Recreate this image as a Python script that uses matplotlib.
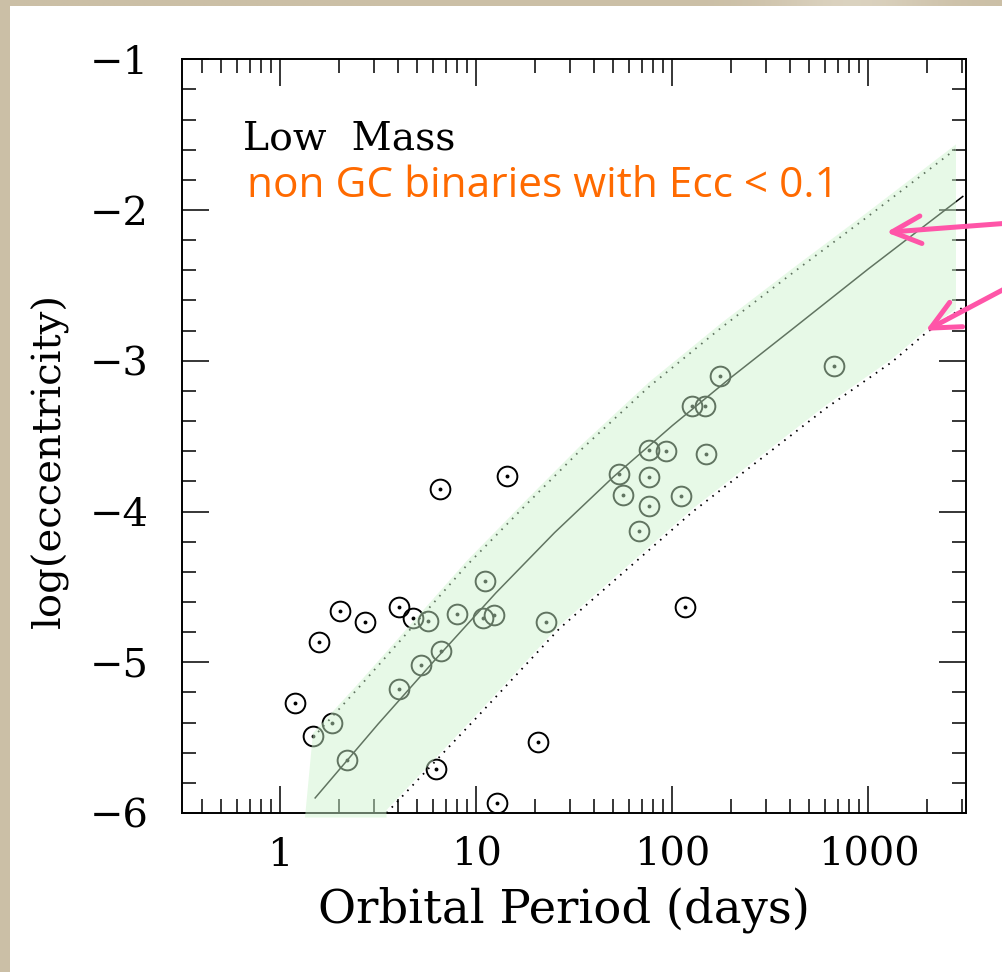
import numpy as np
import matplotlib
matplotlib.use("Agg")
import matplotlib.pyplot as plt
from matplotlib.patches import Rectangle, Polygon
from matplotlib.ticker import FixedLocator, LogLocator, NullFormatter, MultipleLocator

# ---- data -------------------------------------------------------------
# binaries: orbital period (days) and log10(eccentricity)
period = [2.02, 2.71, 1.585, 4.05, 4.77, 1.19, 1.477, 6.22, 20.6, 12.8,
          6.52, 14.35, 115.5,
          5.68, 8.02, 11.05, 10.83, 12.28, 22.58, 6.60, 5.24, 4.02, 1.846,
          2.185, 667.0, 175.0, 125.4, 146.7, 76.4, 92.9, 148.9, 53.5, 76.1,
          56.3, 76.4, 110.2, 67.7]
log_ecc = [-4.660, -4.732, -4.865, -4.636, -4.709, -5.269, -5.488, -5.709,
           -5.532, -5.933, -3.853, -3.765, -4.632,
           -4.725, -4.683, -4.462, -4.709, -4.687, -4.736, -4.924, -5.019,
           -5.179, -5.406, -5.650, -3.033, -3.102, -3.301, -3.301, -3.595,
           -3.599, -3.617, -3.750, -3.774, -3.893, -3.962, -3.896, -4.132]

# fluctuation-dissipation relation (solid) and its spread (dotted)
model_period = [1.51, 3.16, 6.31, 12.6, 25.1, 50.1, 100.0, 199.5, 409.3,
                1000.0, 3027.0]
model_log_ecc = [-5.90, -5.41, -4.97, -4.54, -4.14, -3.77, -3.43, -3.11,
                 -2.79, -2.39, -1.91]

upper_period = [1.472, 2.51, 4.08, 8.91, 17.8, 33.6, 76.4, 177.8, 408.0,
                1000.0, 2890.0]
upper_log_ecc = [-5.50, -5.17, -4.86, -4.36, -3.96, -3.60, -3.17, -2.78,
                 -2.42, -2.04, -1.58]

lower_period = [3.49, 10.0, 26.6, 58.1, 126.8, 277.3, 605.3, 1321.0, 1954.0,
                2992.0]
lower_log_ecc = [-6.00, -5.37, -4.776, -4.389, -4.002, -3.659, -3.316,
                 -3.007, -2.818, -2.65]

x_ticks = [1, 10, 100, 1000]
x_ticklabels = ["1", "10", "100", "1000"]
y_ticks = [-6, -5, -4, -3, -2, -1]
y_ticklabels = ["\u22126", "\u22125", "\u22124", "\u22123", "\u22122", "\u22121"]

# ---- figure -----------------------------------------------------------
W, H = 1003, 972
fig = plt.figure(figsize=(W / 100, H / 100), dpi=100)
fig.patch.set_facecolor("white")

beige = "#cbbfa6"
fig.patches.append(Rectangle((0, 0), 10 / W, 1, transform=fig.transFigure,
                             facecolor=beige, edgecolor="none", zorder=0))
# top strip with a faint sheen
strip = fig.add_axes([0, 1 - 6 / H, 1, 6 / H])
xs = np.linspace(0, 1, 400)
sheen = np.exp(-((xs - 0.85) / 0.08) ** 2) * 0.55
base = np.array([203, 191, 166]) / 255
light = np.array([232, 226, 212]) / 255
rgb = base[None, :] * (1 - sheen[:, None]) + light[None, :] * sheen[:, None]
strip.imshow(rgb[None, :, :], aspect="auto", extent=[0, 1, 0, 1])
strip.set_axis_off()

serif = "DejaVu Serif"

ax = fig.add_axes([182 / W, 1 - 813 / H, 784.5 / W, (813 - 59.3) / H])
ax.set_xscale("log")
ax.set_xlim(10 ** -0.5, 10 ** 3.5)
ax.set_ylim(-6, -1)

ax.xaxis.set_major_locator(FixedLocator(x_ticks))
ax.set_xticklabels(x_ticklabels)
ax.xaxis.set_minor_locator(LogLocator(base=10, subs=range(2, 10)))
ax.xaxis.set_minor_formatter(NullFormatter())
ax.yaxis.set_major_locator(FixedLocator(y_ticks))
ax.set_yticklabels(y_ticklabels)
ax.yaxis.set_minor_locator(MultipleLocator(0.2))

ax.tick_params(which="both", direction="in", top=True, right=True, width=1.1,
               color="black")
ax.tick_params(which="major", length=19.5)
ax.tick_params(which="minor", length=10)
ax.tick_params(axis="x", which="major", pad=17, labelsize=28.8)
ax.tick_params(axis="y", which="major", pad=24, labelsize=28.8)
for lab in ax.get_xticklabels() + ax.get_yticklabels():
    lab.set_family(serif)
for sp in ax.spines.values():
    sp.set_linewidth(1.4)

# model curves
ax.plot(model_period, model_log_ecc, color="black", lw=1.1, zorder=3)
ax.plot(upper_period, upper_log_ecc, color="black", lw=1.3,
        linestyle=(0, (0.9, 3.3)), zorder=3)
ax.plot(lower_period, lower_log_ecc, color="black", lw=1.3,
        linestyle=(0, (0.9, 3.3)), zorder=3)

# binaries: open circles with a central dot
ax.plot(period, log_ecc, linestyle="none", marker="o", ms=14.2,
        mfc="none", mec="black", mew=1.4, zorder=4)
ax.plot(period, log_ecc, linestyle="none", marker="o", ms=2.8,
        mfc="black", mec="black", mew=0, zorder=4)

# translucent green band between the dotted curves
up_pad, low_pad = 0.03, 0.02
band = ([(1.34, -6.03)]
        + [(p, v + up_pad) for p, v in zip(upper_period, upper_log_ecc)]
        + [(p, v + low_pad) for p, v in zip(lower_period[::-1], lower_log_ecc[::-1])]
        + [(lower_period[0], -6.03)])
band_patch = Polygon(band, closed=True, facecolor="#cdf4cd", edgecolor="none",
                     alpha=0.48, zorder=6)
ax.add_patch(band_patch)
band_patch.set_clip_path(Rectangle((0.5, -6.2), 2780 - 0.5, 6.0,
                                   transform=ax.transData))

# labels
fig.text(564 / W, 1 - 910 / H, "Orbital Period (days)", family=serif,
         fontsize=33.5, ha="center", va="center")
fig.text(50 / W, 1 - 460 / H, "log(eccentricity)", family=serif,
         fontsize=29, ha="center", va="center", rotation=90)

fig.text(243 / W, 1 - 149 / H, "Low  Mass", family=serif, fontsize=28.3,
         ha="left", va="baseline")
fig.text(247 / W, 1 - 196.7 / H, "non GC binaries with Ecc < 0.1",
         family="Open Sans", fontsize=30.5, color="#ff6a00", ha="left",
         va="baseline")

# pink pointers to the band edges
pink = "#ff55a8"
for tip, tail in [((1233, -2.148), (1010, H - 223)),
                  ((1954, -2.801), (1010, H - 286))]:
    ax.annotate("", xy=tip, xycoords="data", xytext=tail,
                textcoords="figure pixels", annotation_clip=False,
                arrowprops=dict(arrowstyle="->,head_length=1.3,head_width=0.62",
                                mutation_scale=16, lw=3.6, color=pink,
                                shrinkA=0, shrinkB=0, capstyle="round",
                                joinstyle="round"),
                zorder=8)

fig.savefig("out.png", dpi=100)
